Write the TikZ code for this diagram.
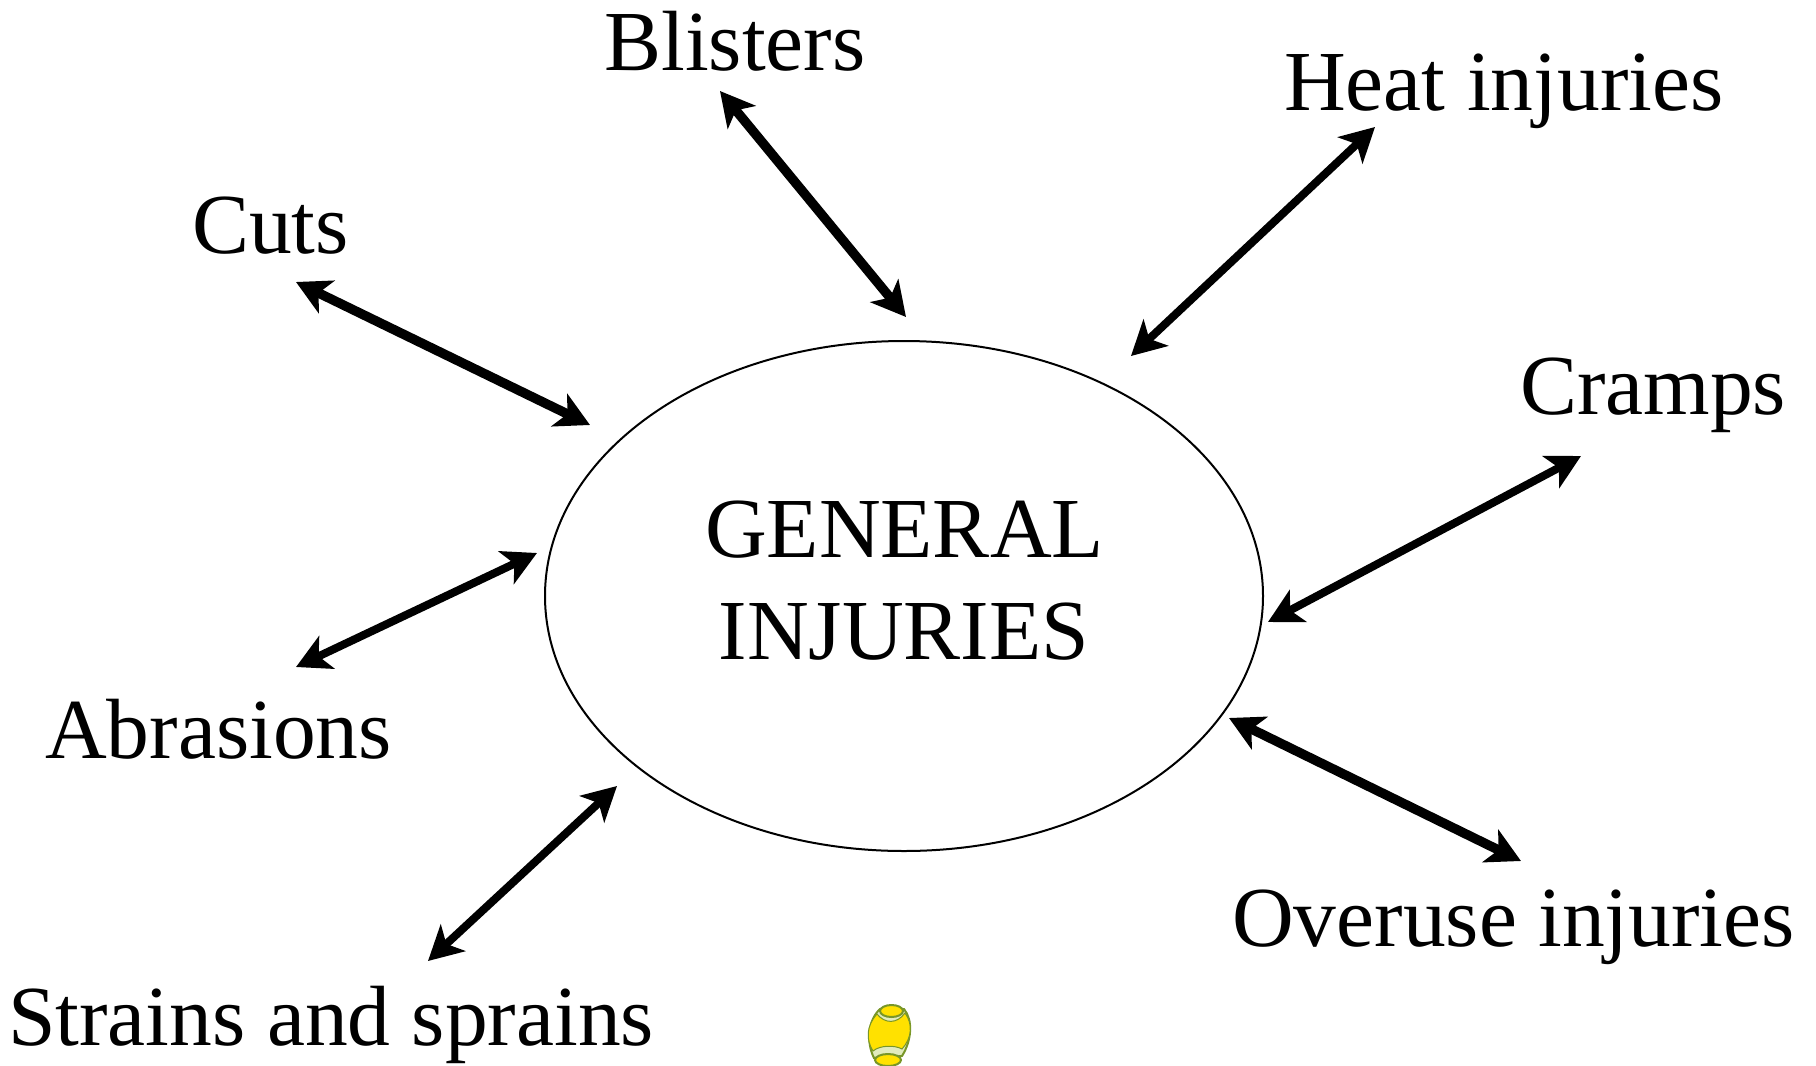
\documentclass[tikz,border=0pt]{standalone}
\usepackage{fontspec}
\setmainfont{Liberation Serif}
\usetikzlibrary{arrows.meta,shapes.geometric}
\definecolor{ballgr}{RGB}{120,150,40}
\definecolor{ballye}{RGB}{255,225,0}
\definecolor{ballpale}{RGB}{225,235,190}
\tikzset{
  lbl/.style={anchor=base west,inner sep=0pt,font=\fontsize{85.5}{85.5}\selectfont},
  hub/.style={ellipse,draw=black,line width=2pt,minimum width=718pt,minimum height=510pt,inner sep=0pt},
  hubtext/.style={anchor=base,inner sep=0pt,font=\fontsize{85.5}{85.5}\selectfont},
  link/.style={line width=9.5pt,black,{Stealth[length=34pt,width=36pt,inset=9pt]}-{Stealth[length=34pt,width=36pt,inset=9pt]}},
  thin link/.style={link,line width=8pt},
  ballline/.style={draw=ballgr,line width=2pt}
}
\begin{document}
\begin{tikzpicture}[x=1pt,y=-1pt]
\useasboundingbox (0,0) rectangle (1816,1066);
\node[hub] (hub) at (904,596) {};
\node[hubtext] (hubA) at (904.5,557) {GENERAL};
\node[hubtext] (hubB) at (904,659) {INJURIES};
\node[lbl] (blisters) at (604,70) {Blisters};
\node[lbl] (heat) at (1284,110) {Heat injuries};
\node[lbl] (cuts) at (192,253) {Cuts};
\node[lbl] (cramps) at (1520,414) {Cramps};
\node[lbl] (abrasions) at (45,758) {Abrasions};
\node[lbl] (overuse) at (1232,946) {Overuse injuries};
\node[lbl] (strains) at (8,1045) {Strains and sprains};
\coordinate (b1) at (720,91);   \coordinate (b2) at (906,317);
\coordinate (h1) at (1375,127); \coordinate (h2) at (1131,356);
\coordinate (c1) at (296,282);  \coordinate (c2) at (590,425);
\coordinate (r1) at (1581,456); \coordinate (r2) at (1268,622);
\coordinate (a1) at (537,553);  \coordinate (a2) at (296,667);
\coordinate (o1) at (1229,718); \coordinate (o2) at (1521,861);
\coordinate (s1) at (617,786);  \coordinate (s2) at (428,961);
\draw[link] (b1) -- (b2);
\draw[thin link] (h1) -- (h2);
\draw[link] (c1) -- (c2);
\draw[thin link] (r1) -- (r2);
\draw[thin link] (a1) -- (a2);
\draw[link] (o1) -- (o2);
\draw[thin link] (s1) -- (s2);
% ball
\begin{scope}
\clip (0,0) rectangle (1816,1066);
\path[fill=ballpale,ballline] (880,1009) .. controls (868,1020) and (866,1042) .. (874,1058)
  -- (902,1056) .. controls (912,1040) and (913,1020) .. (904,1009) -- cycle;
\path[fill=ballye,draw=ballgr,line width=1pt] (877,1014) .. controls (866,1026) and (866,1040) .. (873,1051)
  .. controls (880,1045) and (895,1045) .. (902,1049)
  .. controls (912,1038) and (913,1024) .. (905,1013)
  .. controls (897,1024) and (885,1024) .. (877,1014) -- cycle;
\path[fill=ballye,ballline] (891.5,1011) ellipse [x radius=11.5,y radius=6];
\path[fill=ballye,ballline] (888,1060) ellipse [x radius=13,y radius=6];
\end{scope}
\end{tikzpicture}
\end{document}
